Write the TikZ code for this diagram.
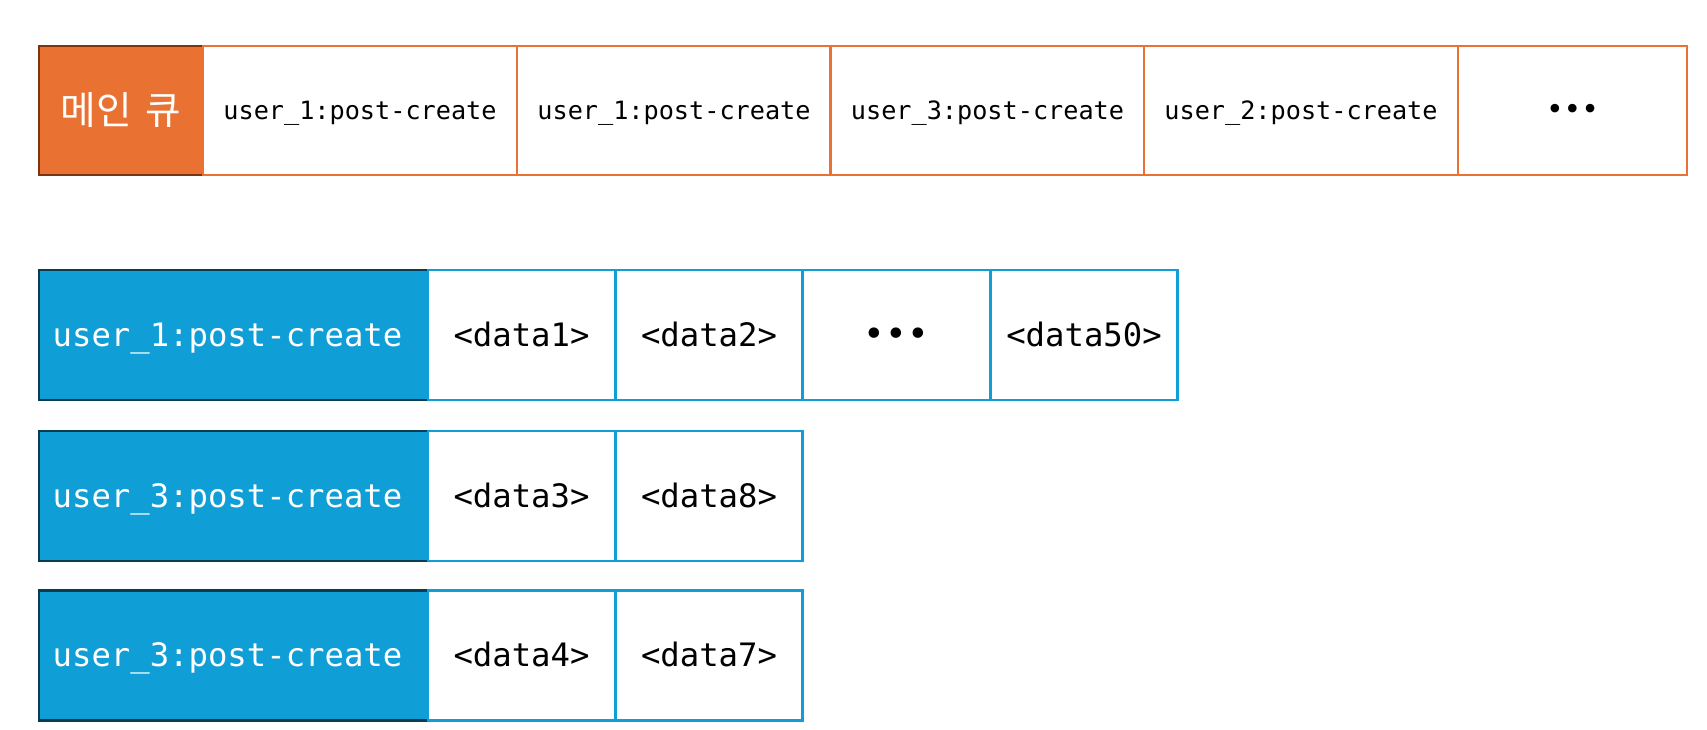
\documentclass[tikz,border=0pt]{standalone}
\usepackage{fontspec}
\setmonofont{DejaVu Sans Mono}
\newfontfamily\krfont{Noto Sans CJK KR}
\definecolor{qorange}{HTML}{E97132}
\definecolor{qorangedk}{HTML}{7A3510}
\definecolor{qblue}{HTML}{0F9ED5}
\definecolor{qbluedk}{HTML}{0B3B52}
\begin{document}
\begin{tikzpicture}[x=0.75pt,y=-0.75pt,
  box/.style={rectangle, inner sep=0pt, outer sep=0pt},
  tophdr/.style={box, draw=qorangedk, line width=2pt, fill=qorange, text=white,
    minimum width=123pt, minimum height=96.75pt, font=\krfont\fontsize{29}{30}\selectfont},
  topcell/.style={box, draw=qorange, line width=1.6pt, fill=white, text=black,
    minimum width=235.5pt, minimum height=96.75pt, text height=16pt, text depth=2.8pt,
    font=\ttfamily\fontsize{18.9}{20}\selectfont},
  rowhdr/.style={box, draw=qbluedk, line width=2pt, fill=qblue, text=white,
    minimum width=291.75pt, minimum height=97.5pt, text height=20.6pt, text depth=3.6pt,
    font=\ttfamily\fontsize{24.2}{26}\selectfont},
  rowcell/.style={box, draw=qblue, line width=1.6pt, fill=white, text=black,
    minimum width=140.25pt, minimum height=97.5pt, text height=20.6pt, text depth=3.6pt,
    font=\ttfamily\fontsize{24.2}{26}\selectfont}]
\fill[white] (0,0) rectangle (1707,730);
\useasboundingbox (0,0) rectangle (1707,730);
% main queue
\node[tophdr] (mq) at (121,110.5) {메인\hspace{0.35em}큐};
\node[topcell] (q1) at (360,110.5) {user\_1:post-create};
\node[topcell] (q2) at (674,110.5) {user\_1:post-create};
\node[topcell] (q3) at (987.5,110.5) {user\_3:post-create};
\node[topcell] (q4) at (1301,110.5) {user\_2:post-create};
\node[topcell, minimum width=171.75pt, font=\ttfamily\fontsize{22}{24}\selectfont] (q5) at (1572.5,110.5) {•••};
% row 1
\node[rowhdr] (h1) at (233.5,335) {user\_1:post-create\hspace*{9pt}};
\node[rowcell] (a1) at (521.5,335) {<data1>};
\node[rowcell] (a2) at (709,335) {<data2>};
\node[rowcell, font=\ttfamily\fontsize{27}{28}\selectfont] (a3) at (896.5,335) {•••};
\node[rowcell] (a4) at (1084,335) {<data50>};
% row 2
\node[rowhdr] (h2) at (233.5,496) {user\_3:post-create\hspace*{9pt}};
\node[rowcell] (b1) at (521.5,496) {<data3>};
\node[rowcell] (b2) at (709,496) {<data8>};
% row 3
\node[rowhdr] (h3) at (233.5,655.5) {user\_3:post-create\hspace*{9pt}};
\node[rowcell] (c1) at (521.5,655.5) {<data4>};
\node[rowcell] (c2) at (709,655.5) {<data7>};
\end{tikzpicture}
\end{document}
